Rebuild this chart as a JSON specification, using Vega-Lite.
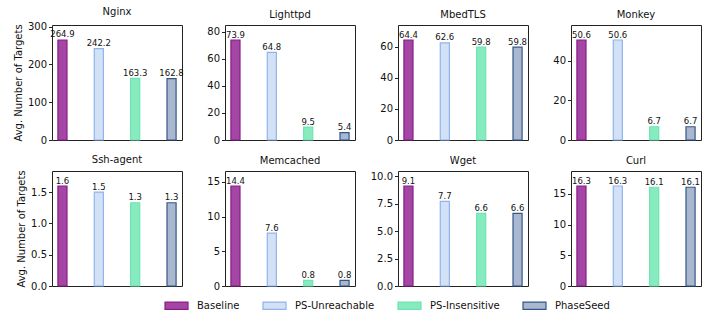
{
  "$schema": "https://vega.github.io/schema/vega-lite/v6.json",
  "background": "white",
  "padding": {"left": 12, "top": 6, "right": 5, "bottom": 5},
  "data": {"values": [
    {"app": "Nginx", "method": "Baseline", "value": 264.9},
    {"app": "Nginx", "method": "PS-Unreachable", "value": 242.2},
    {"app": "Nginx", "method": "PS-Insensitive", "value": 163.3},
    {"app": "Nginx", "method": "PhaseSeed", "value": 162.8},
    {"app": "Lighttpd", "method": "Baseline", "value": 73.9},
    {"app": "Lighttpd", "method": "PS-Unreachable", "value": 64.8},
    {"app": "Lighttpd", "method": "PS-Insensitive", "value": 9.5},
    {"app": "Lighttpd", "method": "PhaseSeed", "value": 5.4},
    {"app": "MbedTLS", "method": "Baseline", "value": 64.4},
    {"app": "MbedTLS", "method": "PS-Unreachable", "value": 62.6},
    {"app": "MbedTLS", "method": "PS-Insensitive", "value": 59.8},
    {"app": "MbedTLS", "method": "PhaseSeed", "value": 59.8},
    {"app": "Monkey", "method": "Baseline", "value": 50.6},
    {"app": "Monkey", "method": "PS-Unreachable", "value": 50.6},
    {"app": "Monkey", "method": "PS-Insensitive", "value": 6.7},
    {"app": "Monkey", "method": "PhaseSeed", "value": 6.7},
    {"app": "Ssh-agent", "method": "Baseline", "value": 1.597},
    {"app": "Ssh-agent", "method": "PS-Unreachable", "value": 1.5},
    {"app": "Ssh-agent", "method": "PS-Insensitive", "value": 1.33},
    {"app": "Ssh-agent", "method": "PhaseSeed", "value": 1.33},
    {"app": "Memcached", "method": "Baseline", "value": 14.4},
    {"app": "Memcached", "method": "PS-Unreachable", "value": 7.6},
    {"app": "Memcached", "method": "PS-Insensitive", "value": 0.8},
    {"app": "Memcached", "method": "PhaseSeed", "value": 0.8},
    {"app": "Wget", "method": "Baseline", "value": 9.1},
    {"app": "Wget", "method": "PS-Unreachable", "value": 7.7},
    {"app": "Wget", "method": "PS-Insensitive", "value": 6.6},
    {"app": "Wget", "method": "PhaseSeed", "value": 6.6},
    {"app": "Curl", "method": "Baseline", "value": 16.3},
    {"app": "Curl", "method": "PS-Unreachable", "value": 16.3},
    {"app": "Curl", "method": "PS-Insensitive", "value": 16.1},
    {"app": "Curl", "method": "PhaseSeed", "value": 16.1}
  ]},
  "columns": 4,
  "bounds": "flush",
  "spacing": {"row": 31, "column": 43},
  "concat": [
    {"title": {"text": "Nginx", "fontSize": 10, "fontWeight": 400, "offset": 5}, "width": 130, "height": 115,
     "transform": [{"filter": "datum.app === 'Nginx'"}],
     "encoding": {
       "x": {"field": "method", "type": "nominal", "sort": ["Baseline", "PS-Unreachable", "PS-Insensitive", "PhaseSeed"], "axis": null, "scale": {"paddingInner": 0.75, "paddingOuter": 0.1625}},
       "y": {"field": "value", "type": "quantitative", "scale": {"domain": [0, 304.6], "nice": false}, "axis": {"values": [0, 100, 200, 300], "title": "Avg. Number of Targets"}}},
     "layer": [
       {"mark": {"type": "bar", "strokeWidth": 1.2},
        "encoding": {
          "fill": {"field": "method", "type": "nominal", "scale": {"domain": ["Baseline", "PS-Unreachable", "PS-Insensitive", "PhaseSeed"], "range": ["#a447a4", "#d3e1f7", "#86ecbf", "#a9b7cf"]}, "legend": {"title": null}},
          "stroke": {"field": "method", "type": "nominal", "scale": {"domain": ["Baseline", "PS-Unreachable", "PS-Insensitive", "PhaseSeed"], "range": ["#8a1c8a", "#8fb3ec", "#6fe3b0", "#34568a"]}, "legend": {"title": null}}}},
       {"mark": {"type": "text", "baseline": "bottom", "dy": -0.5, "fontSize": 8.5, "color": "#111"},
        "encoding": {"text": {"field": "value", "type": "quantitative", "format": ".1f"}}}
     ]},
    {"title": {"text": "Lighttpd", "fontSize": 10, "fontWeight": 400, "offset": 5}, "width": 130, "height": 115,
     "transform": [{"filter": "datum.app === 'Lighttpd'"}],
     "encoding": {
       "x": {"field": "method", "type": "nominal", "sort": ["Baseline", "PS-Unreachable", "PS-Insensitive", "PhaseSeed"], "axis": null, "scale": {"paddingInner": 0.75, "paddingOuter": 0.1625}},
       "y": {"field": "value", "type": "quantitative", "scale": {"domain": [0, 85.0], "nice": false}, "axis": {"values": [0, 20, 40, 60, 80], "title": null}}},
     "layer": [
       {"mark": {"type": "bar", "strokeWidth": 1.2},
        "encoding": {
          "fill": {"field": "method", "type": "nominal", "scale": {"domain": ["Baseline", "PS-Unreachable", "PS-Insensitive", "PhaseSeed"], "range": ["#a447a4", "#d3e1f7", "#86ecbf", "#a9b7cf"]}, "legend": {"title": null}},
          "stroke": {"field": "method", "type": "nominal", "scale": {"domain": ["Baseline", "PS-Unreachable", "PS-Insensitive", "PhaseSeed"], "range": ["#8a1c8a", "#8fb3ec", "#6fe3b0", "#34568a"]}, "legend": {"title": null}}}},
       {"mark": {"type": "text", "baseline": "bottom", "dy": -0.5, "fontSize": 8.5, "color": "#111"},
        "encoding": {"text": {"field": "value", "type": "quantitative", "format": ".1f"}}}
     ]},
    {"title": {"text": "MbedTLS", "fontSize": 10, "fontWeight": 400, "offset": 5}, "width": 130, "height": 115,
     "transform": [{"filter": "datum.app === 'MbedTLS'"}],
     "encoding": {
       "x": {"field": "method", "type": "nominal", "sort": ["Baseline", "PS-Unreachable", "PS-Insensitive", "PhaseSeed"], "axis": null, "scale": {"paddingInner": 0.75, "paddingOuter": 0.1625}},
       "y": {"field": "value", "type": "quantitative", "scale": {"domain": [0, 74.06], "nice": false}, "axis": {"values": [0, 20, 40, 60], "title": null}}},
     "layer": [
       {"mark": {"type": "bar", "strokeWidth": 1.2},
        "encoding": {
          "fill": {"field": "method", "type": "nominal", "scale": {"domain": ["Baseline", "PS-Unreachable", "PS-Insensitive", "PhaseSeed"], "range": ["#a447a4", "#d3e1f7", "#86ecbf", "#a9b7cf"]}, "legend": {"title": null}},
          "stroke": {"field": "method", "type": "nominal", "scale": {"domain": ["Baseline", "PS-Unreachable", "PS-Insensitive", "PhaseSeed"], "range": ["#8a1c8a", "#8fb3ec", "#6fe3b0", "#34568a"]}, "legend": {"title": null}}}},
       {"mark": {"type": "text", "baseline": "bottom", "dy": -0.5, "fontSize": 8.5, "color": "#111"},
        "encoding": {"text": {"field": "value", "type": "quantitative", "format": ".1f"}}}
     ]},
    {"title": {"text": "Monkey", "fontSize": 10, "fontWeight": 400, "offset": 5}, "width": 130, "height": 115,
     "transform": [{"filter": "datum.app === 'Monkey'"}],
     "encoding": {
       "x": {"field": "method", "type": "nominal", "sort": ["Baseline", "PS-Unreachable", "PS-Insensitive", "PhaseSeed"], "axis": null, "scale": {"paddingInner": 0.75, "paddingOuter": 0.1625}},
       "y": {"field": "value", "type": "quantitative", "scale": {"domain": [0, 58.19], "nice": false}, "axis": {"values": [0, 20, 40], "title": null}}},
     "layer": [
       {"mark": {"type": "bar", "strokeWidth": 1.2},
        "encoding": {
          "fill": {"field": "method", "type": "nominal", "scale": {"domain": ["Baseline", "PS-Unreachable", "PS-Insensitive", "PhaseSeed"], "range": ["#a447a4", "#d3e1f7", "#86ecbf", "#a9b7cf"]}, "legend": {"title": null}},
          "stroke": {"field": "method", "type": "nominal", "scale": {"domain": ["Baseline", "PS-Unreachable", "PS-Insensitive", "PhaseSeed"], "range": ["#8a1c8a", "#8fb3ec", "#6fe3b0", "#34568a"]}, "legend": {"title": null}}}},
       {"mark": {"type": "text", "baseline": "bottom", "dy": -0.5, "fontSize": 8.5, "color": "#111"},
        "encoding": {"text": {"field": "value", "type": "quantitative", "format": ".1f"}}}
     ]},
    {"title": {"text": "Ssh-agent", "fontSize": 10, "fontWeight": 400, "offset": 5}, "width": 130, "height": 115,
     "transform": [{"filter": "datum.app === 'Ssh-agent'"}],
     "encoding": {
       "x": {"field": "method", "type": "nominal", "sort": ["Baseline", "PS-Unreachable", "PS-Insensitive", "PhaseSeed"], "axis": null, "scale": {"paddingInner": 0.75, "paddingOuter": 0.1625}},
       "y": {"field": "value", "type": "quantitative", "scale": {"domain": [0, 1.837], "nice": false}, "axis": {"values": [0, 0.5, 1, 1.5], "format": ".1f", "title": "Avg. Number of Targets"}}},
     "layer": [
       {"mark": {"type": "bar", "strokeWidth": 1.2},
        "encoding": {
          "fill": {"field": "method", "type": "nominal", "scale": {"domain": ["Baseline", "PS-Unreachable", "PS-Insensitive", "PhaseSeed"], "range": ["#a447a4", "#d3e1f7", "#86ecbf", "#a9b7cf"]}, "legend": {"title": null}},
          "stroke": {"field": "method", "type": "nominal", "scale": {"domain": ["Baseline", "PS-Unreachable", "PS-Insensitive", "PhaseSeed"], "range": ["#8a1c8a", "#8fb3ec", "#6fe3b0", "#34568a"]}, "legend": {"title": null}}}},
       {"mark": {"type": "text", "baseline": "bottom", "dy": -0.5, "fontSize": 8.5, "color": "#111"},
        "encoding": {"text": {"field": "value", "type": "quantitative", "format": ".1f"}}}
     ]},
    {"title": {"text": "Memcached", "fontSize": 10, "fontWeight": 400, "offset": 5}, "width": 130, "height": 115,
     "transform": [{"filter": "datum.app === 'Memcached'"}],
     "encoding": {
       "x": {"field": "method", "type": "nominal", "sort": ["Baseline", "PS-Unreachable", "PS-Insensitive", "PhaseSeed"], "axis": null, "scale": {"paddingInner": 0.75, "paddingOuter": 0.1625}},
       "y": {"field": "value", "type": "quantitative", "scale": {"domain": [0, 16.56], "nice": false}, "axis": {"values": [0, 5, 10, 15], "title": null}}},
     "layer": [
       {"mark": {"type": "bar", "strokeWidth": 1.2},
        "encoding": {
          "fill": {"field": "method", "type": "nominal", "scale": {"domain": ["Baseline", "PS-Unreachable", "PS-Insensitive", "PhaseSeed"], "range": ["#a447a4", "#d3e1f7", "#86ecbf", "#a9b7cf"]}, "legend": {"title": null}},
          "stroke": {"field": "method", "type": "nominal", "scale": {"domain": ["Baseline", "PS-Unreachable", "PS-Insensitive", "PhaseSeed"], "range": ["#8a1c8a", "#8fb3ec", "#6fe3b0", "#34568a"]}, "legend": {"title": null}}}},
       {"mark": {"type": "text", "baseline": "bottom", "dy": -0.5, "fontSize": 8.5, "color": "#111"},
        "encoding": {"text": {"field": "value", "type": "quantitative", "format": ".1f"}}}
     ]},
    {"title": {"text": "Wget", "fontSize": 10, "fontWeight": 400, "offset": 5}, "width": 130, "height": 115,
     "transform": [{"filter": "datum.app === 'Wget'"}],
     "encoding": {
       "x": {"field": "method", "type": "nominal", "sort": ["Baseline", "PS-Unreachable", "PS-Insensitive", "PhaseSeed"], "axis": null, "scale": {"paddingInner": 0.75, "paddingOuter": 0.1625}},
       "y": {"field": "value", "type": "quantitative", "scale": {"domain": [0, 10.465], "nice": false}, "axis": {"values": [0, 2.5, 5, 7.5, 10], "format": ".1f", "title": null}}},
     "layer": [
       {"mark": {"type": "bar", "strokeWidth": 1.2},
        "encoding": {
          "fill": {"field": "method", "type": "nominal", "scale": {"domain": ["Baseline", "PS-Unreachable", "PS-Insensitive", "PhaseSeed"], "range": ["#a447a4", "#d3e1f7", "#86ecbf", "#a9b7cf"]}, "legend": {"title": null}},
          "stroke": {"field": "method", "type": "nominal", "scale": {"domain": ["Baseline", "PS-Unreachable", "PS-Insensitive", "PhaseSeed"], "range": ["#8a1c8a", "#8fb3ec", "#6fe3b0", "#34568a"]}, "legend": {"title": null}}}},
       {"mark": {"type": "text", "baseline": "bottom", "dy": -0.5, "fontSize": 8.5, "color": "#111"},
        "encoding": {"text": {"field": "value", "type": "quantitative", "format": ".1f"}}}
     ]},
    {"title": {"text": "Curl", "fontSize": 10, "fontWeight": 400, "offset": 5}, "width": 130, "height": 115,
     "transform": [{"filter": "datum.app === 'Curl'"}],
     "encoding": {
       "x": {"field": "method", "type": "nominal", "sort": ["Baseline", "PS-Unreachable", "PS-Insensitive", "PhaseSeed"], "axis": null, "scale": {"paddingInner": 0.75, "paddingOuter": 0.1625}},
       "y": {"field": "value", "type": "quantitative", "scale": {"domain": [0, 18.745], "nice": false}, "axis": {"values": [0, 5, 10, 15], "title": null}}},
     "layer": [
       {"mark": {"type": "bar", "strokeWidth": 1.2},
        "encoding": {
          "fill": {"field": "method", "type": "nominal", "scale": {"domain": ["Baseline", "PS-Unreachable", "PS-Insensitive", "PhaseSeed"], "range": ["#a447a4", "#d3e1f7", "#86ecbf", "#a9b7cf"]}, "legend": {"title": null}},
          "stroke": {"field": "method", "type": "nominal", "scale": {"domain": ["Baseline", "PS-Unreachable", "PS-Insensitive", "PhaseSeed"], "range": ["#8a1c8a", "#8fb3ec", "#6fe3b0", "#34568a"]}, "legend": {"title": null}}}},
       {"mark": {"type": "text", "baseline": "bottom", "dy": -0.5, "fontSize": 8.5, "color": "#111"},
        "encoding": {"text": {"field": "value", "type": "quantitative", "format": ".1f"}}}
     ]}
  ],
  "config": {
    "font": "DejaVu Sans",
    "view": {"stroke": "#222", "strokeWidth": 1},
    "axis": {"labelFontSize": 10, "titleFontSize": 10, "titleFontWeight": "normal", "grid": false, "domain": false, "tickSize": 3.5, "tickColor": "#222", "labelColor": "#111", "titleColor": "#111", "labelPadding": 2, "titlePadding": 4},
    "title": {"fontSize": 10, "fontWeight": 400, "offset": 5, "color": "#111"},
    "style": {"group-title": {"fontSize": 10, "fontWeight": 400}},
    "legend": {"orient": "none", "legendX": 112, "legendY": 268, "direction": "horizontal", "labelFontSize": 10, "labelColor": "#111", "symbolType": "M-1,-0.32H1V0.32H-1Z", "symbolSize": 529, "symbolStrokeWidth": 1.2, "columnPadding": 20, "labelOffset": 8}
  }
}
